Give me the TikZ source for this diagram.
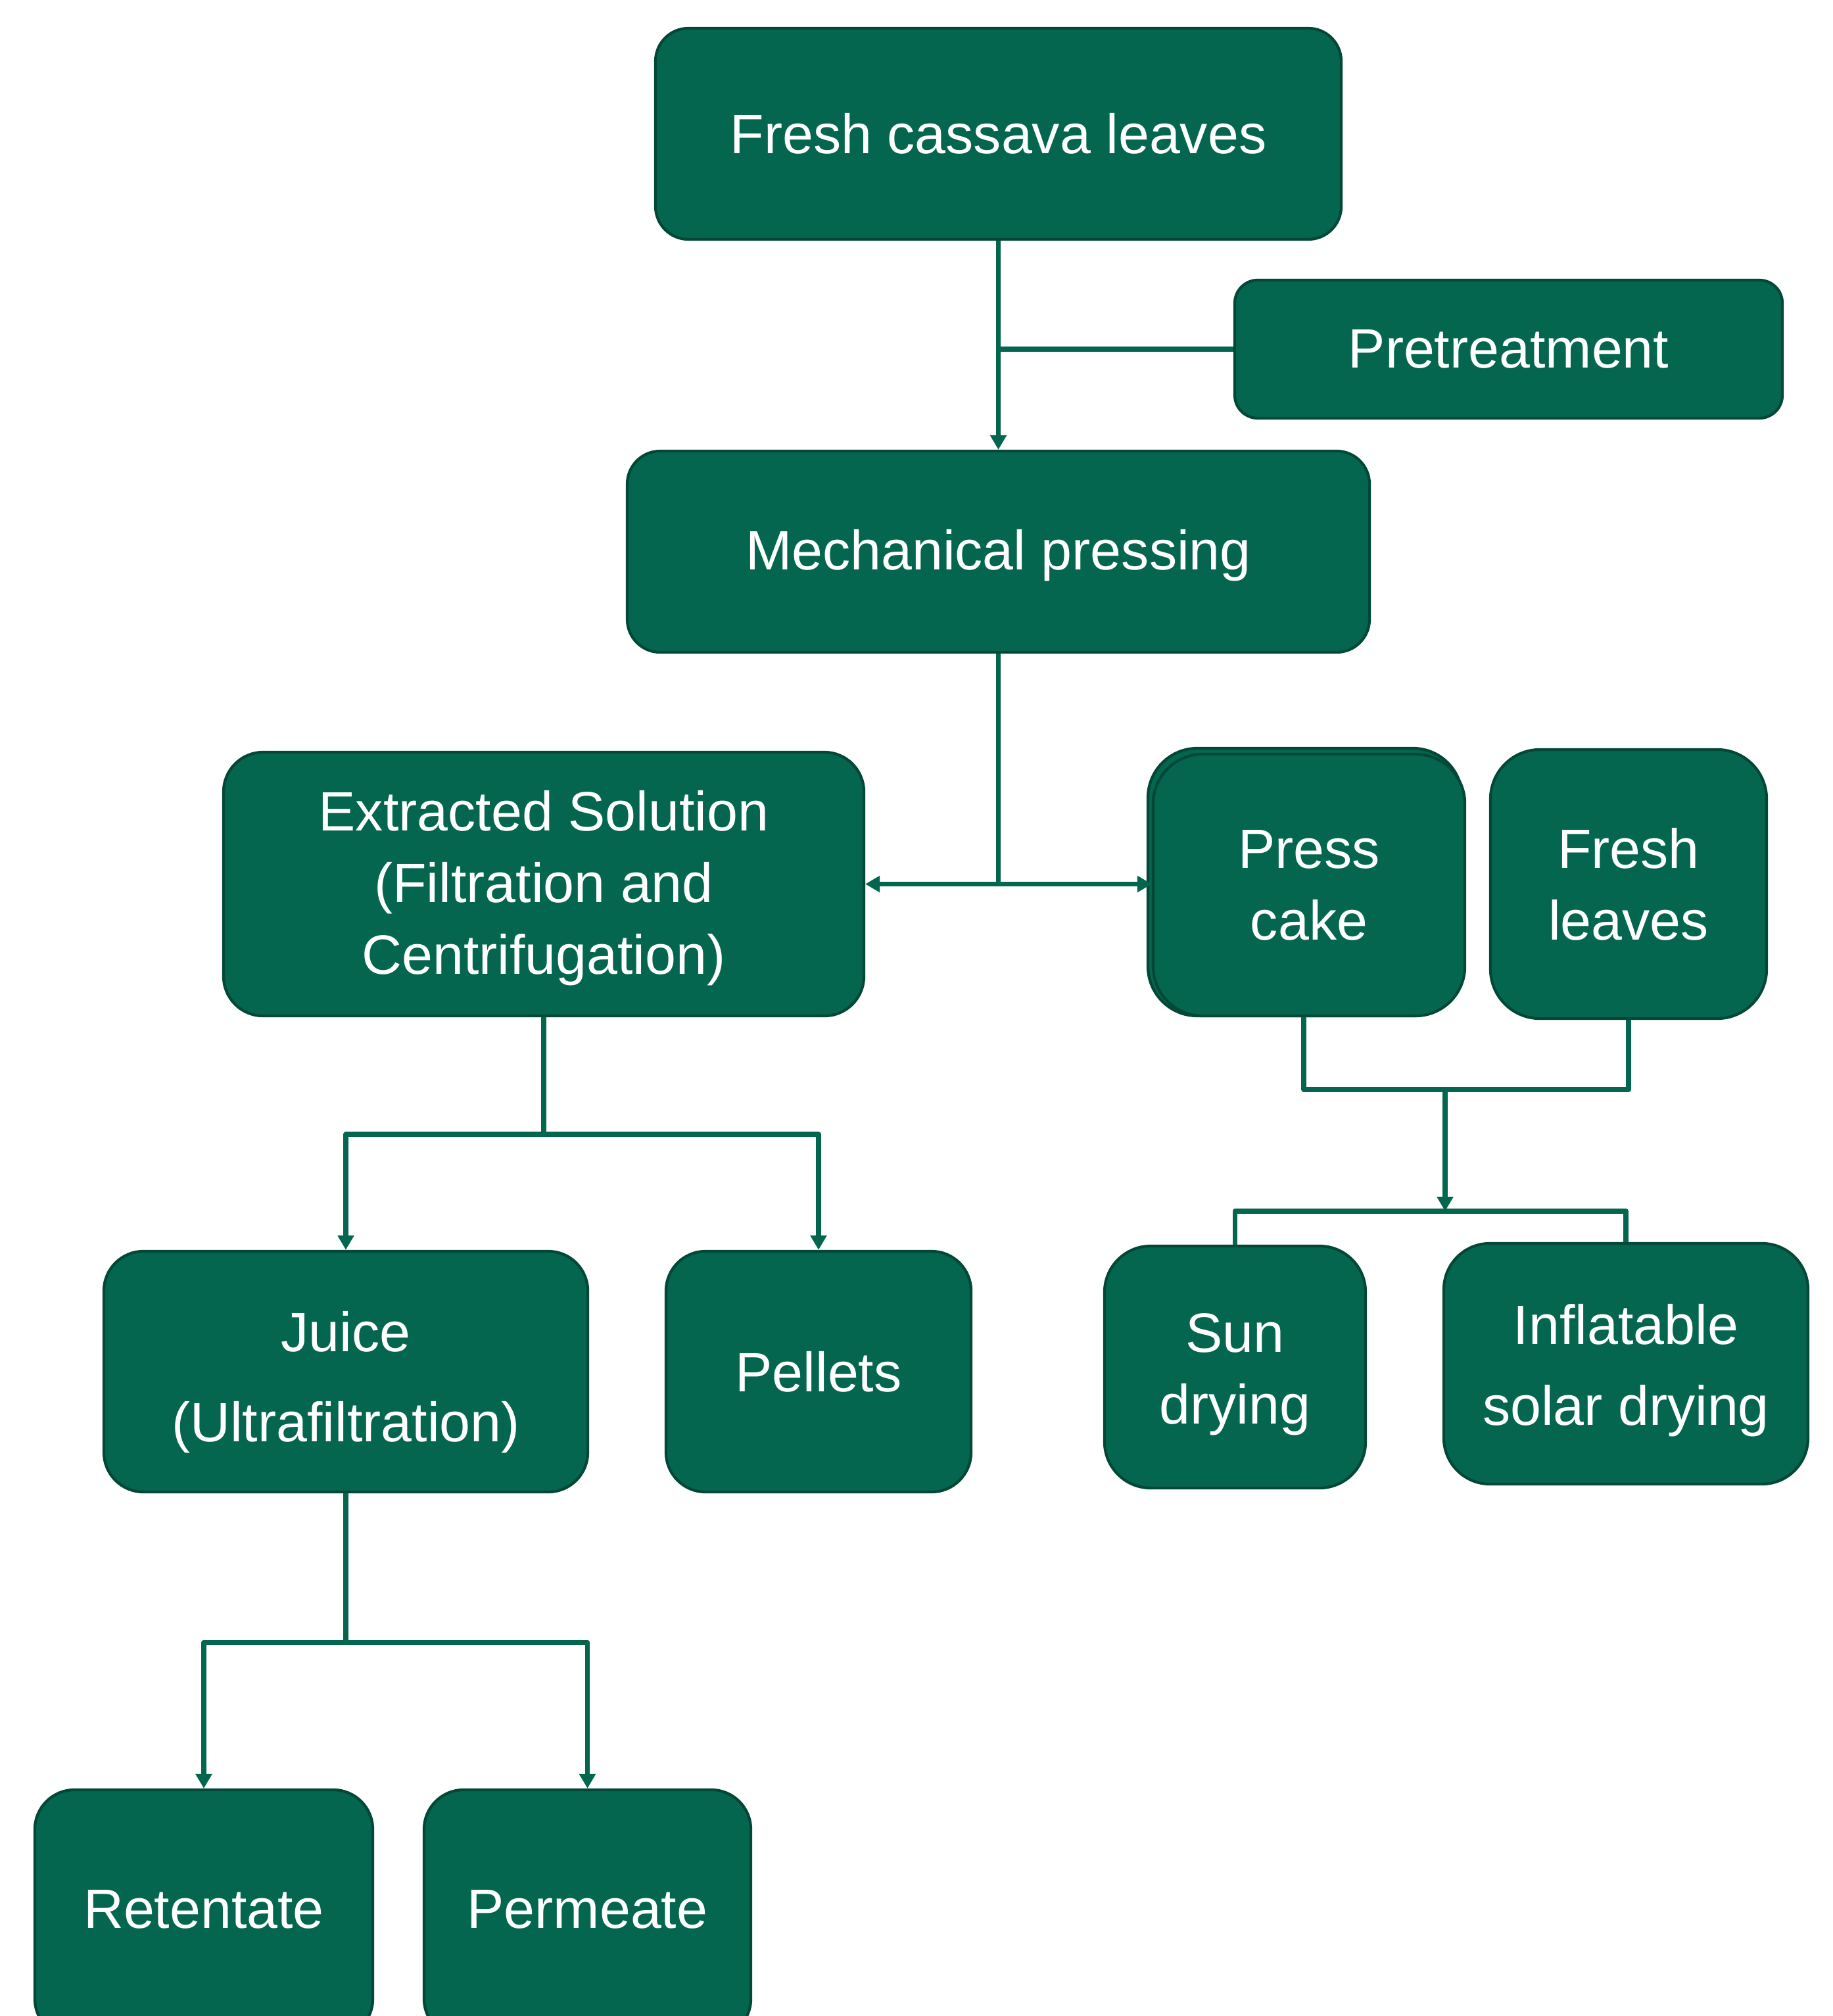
\documentclass[tikz,border=0pt]{standalone}
\usepackage{fontspec}
\setmainfont{Liberation Sans}
\usetikzlibrary{arrows.meta}
\usetikzlibrary{positioning}

\definecolor{leafgreen}{HTML}{04664F}
\definecolor{leafdark}{HTML}{034737}

% move the lines inside a box up or down without changing the box
\newcommand{\nudged}[2]{\raisebox{#1}[\height][\depth]{\begin{tabular}{@{}c@{}}#2\end{tabular}}}

\begin{document}
\begin{tikzpicture}[line cap=round, line join=round, >={Triangle[length=0.22cm,width=0.24cm]},
  stage/.style={draw=leafdark, line width=1.2pt, fill=leafgreen, text=white, rounded corners=0.6cm,
    align=center, inner sep=0pt, font=\fontsize{24}{31}\selectfont},
  flow/.style={draw=leafgreen, line width=2.1pt, line cap=butt}]

\useasboundingbox (0,0) rectangle (27.87,-30.66);

% top part
\node[stage, rounded corners=0.5cm, minimum width=10.43cm, minimum height=3.21cm] (fcl) at (15.185,-2.035) {Fresh cassava leaves};
\node[stage, rounded corners=0.35cm, minimum width=8.33cm, minimum height=2.10cm] (pre) at (22.945,-5.31) {Pretreatment};
\node[stage, rounded corners=0.5cm, minimum width=11.29cm, minimum height=3.06cm] (mp) at (15.185,-8.39) {\nudged{-0.06cm}{Mechanical pressing}};

\draw[flow,->] (fcl.south) -- (mp.north);
\draw[flow] (pre.west) -- (pre.west -| fcl.south);

% second row
\node[stage, minimum width=9.74cm, minimum height=4.01cm] (ext) at (8.27,-13.445) {\nudged{-0.06cm}{Extracted Solution\\(Filtration and\\Centrifugation)}};
\draw[draw=leafdark, line width=1.2pt, fill=leafgreen, rounded corners=0.75cm] (17.46,-11.38) rectangle (22.24,-15.45);
\node[stage, rounded corners=0.75cm, minimum width=4.74cm, minimum height=3.98cm] (cake) at (19.91,-13.46) {Press\\cake};
\node[stage, rounded corners=0.75cm, minimum width=4.20cm, minimum height=4.09cm] (fresh) at (24.77,-13.445) {Fresh\\leaves};

\coordinate (mpsplit) at (mp.south |- ext.east);
\draw[flow] (mp.south) -- (mpsplit);
\draw[flow,->] (mpsplit) -- (ext.east);
\draw[flow,->] (mpsplit) -- (mpsplit -| cake.west);

% third row
\node[stage, minimum width=7.36cm, minimum height=3.66cm] (juice) at (5.26,-20.86) {\nudged{-0.16cm}{Juice\\[8pt](Ultrafiltration)}};
\node[stage, minimum width=4.64cm, minimum height=3.66cm] (pel) at (12.45,-20.86) {Pellets};
\node[stage, rounded corners=0.7cm, minimum width=3.97cm, minimum height=3.68cm] (sun) at (18.785,-20.79) {\nudged{-0.10cm}{Sun\\drying}};
\node[stage, rounded corners=0.7cm, minimum width=5.54cm, minimum height=3.66cm] (inf) at (24.73,-20.74) {\nudged{-0.10cm}{Inflatable\\[4pt]solar drying}};

\draw[flow,->] (ext.south) -- ++(0,-1.78) -| (juice.north);
\draw[flow,->] (ext.south) -- ++(0,-1.78) -| (pel.north);

\coordinate (join) at (21.98,-16.57);
\coordinate (dry) at (21.98,-18.42);
\draw[flow] ([xshift=-0.08cm]cake.south) |- (join) -| (fresh.south);
\draw[flow,->] (join) -- (dry);
\draw[flow] (sun.north) |- (dry) -| (inf.north);

% bottom row
\node[stage, minimum width=5.14cm, minimum height=3.78cm] (ret) at (3.10,-29.11) {\nudged{0cm}{Retentate}};
\node[stage, minimum width=4.97cm, minimum height=3.78cm] (per) at (8.935,-29.11) {\nudged{0cm}{Permeate}};

\draw[flow,->] (juice.south) -- ++(0,-2.27) -| (ret.north);
\draw[flow,->] (juice.south) -- ++(0,-2.27) -| (per.north);

\end{tikzpicture}
\end{document}
